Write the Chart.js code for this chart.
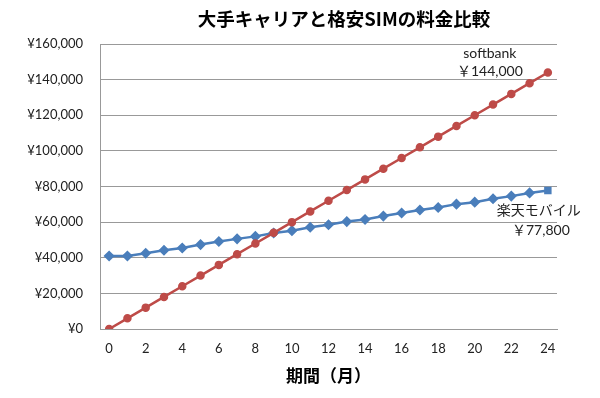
<!DOCTYPE html>
<html>
<head>
<meta charset="utf-8">
<script src="https://cdn.jsdelivr.net/npm/chart.js@4"></script>
<style>
  body { margin: 0; background: #fff; }
</style>
</head>
<body>
<canvas id="myChart" width="600" height="398"></canvas>
<script>
const months = ["0","1","2","3","4","5","6","7","8","9","10","11","12","13","14","15","16","17","18","19","20","21","22","23","24"];
const softbank = [0,6000,12000,18000,24000,30000,36000,42000,48000,54000,60000,66000,72000,78000,84000,90000,96000,102000,108000,114000,120000,126000,132000,138000,144000];
const rakuten = [41000,41000,42500,44200,45500,47400,49100,50600,52000,53900,55200,57100,58500,60300,61500,63400,65100,66800,68200,70100,71200,73100,74600,76400,77800];
const titleText = "大手キャリアと格安SIMの料金比較";
const xTitle = "期間（月）";

const font = "Lato, 'Noto Sans CJK JP', sans-serif";

// title and end labels
const labelsPlugin = {
  id: "labels",
  afterDraw(chart) {
    const c = chart.ctx;
    c.save();
    c.fillStyle = "#000";
    c.textAlign = "center";
    c.textBaseline = "middle";
    c.font = "bold 18.5px 'Noto Sans CJK JP', sans-serif";
    c.fillText(titleText, 344, 19);

    const last = months.length - 1;
    const red = chart.getDatasetMeta(0).data[last];
    const blue = chart.getDatasetMeta(1).data[last];
    c.fillStyle = "#222";
    c.font = "14px " + font;
    c.fillText("softbank", red.x - 58, red.y - 19);
    c.fillText("￥144,000", red.x - 58, red.y - 1);
    c.fillText("楽天モバイル", blue.x - 9, blue.y + 20);
    c.fillText("￥77,800", blue.x - 7, blue.y + 40);
    c.restore();
  }
};

const ctx = document.getElementById("myChart");
new Chart(ctx, {
  type: "line",
  data: {
    labels: months,
    datasets: [
      {
        label: "softbank",
        data: softbank,
        borderColor: "#BE4B48",
        backgroundColor: "#BE4B48",
        borderWidth: 2.5,
        pointStyle: "circle",
        pointRadius: 3,
        pointHoverRadius: 3,
        tension: 0
      },
      {
        label: "楽天モバイル",
        data: rakuten,
        borderColor: "#4A7EBB",
        backgroundColor: "#4A7EBB",
        borderWidth: 2.5,
        pointStyle: (c) => c.dataIndex === months.length - 1 ? "rect" : "rectRot",
        pointRadius: (c) => c.dataIndex === months.length - 1 ? 3.5 : 3.8,
        pointHoverRadius: 3.8,
        tension: 0
      }
    ]
  },
  plugins: [labelsPlugin],
  options: {
    responsive: false,
    animation: false,
    layout: { padding: { top: 44, right: 43, left: 0, bottom: 0 } },
    plugins: {
      legend: { display: false },
      title: { display: false },
      tooltip: { enabled: false }
    },
    scales: {
      x: {
        offset: true,
        grid: { display: false, drawTicks: false },
        border: { color: "#999" },
        ticks: {
          autoSkip: false,
          maxRotation: 0,
          padding: 12,
          color: "#222",
          font: { family: font, size: 13 },
          callback: function (v, i) { return i % 2 === 0 ? months[i] : ""; }
        },
        title: {
          display: true,
          text: xTitle,
          color: "#000",
          font: { family: "'Noto Sans CJK JP', sans-serif", size: 17, weight: "bold" },
          padding: { top: 0, bottom: 12 }
        },
        afterFit: function (scale) { scale.height = 69; }
      },
      y: {
        min: 0,
        max: 160000,
        grid: { color: "#999", drawTicks: false },
        border: { color: "#999" },
        ticks: {
          stepSize: 20000,
          padding: 17,
          color: "#222",
          font: { family: font, size: 13 },
          callback: function (v) { return "¥" + v.toLocaleString("en-US"); }
        },
        afterFit: function (scale) { scale.width = 100; }
      }
    }
  }
});
</script>
</body>
</html>
